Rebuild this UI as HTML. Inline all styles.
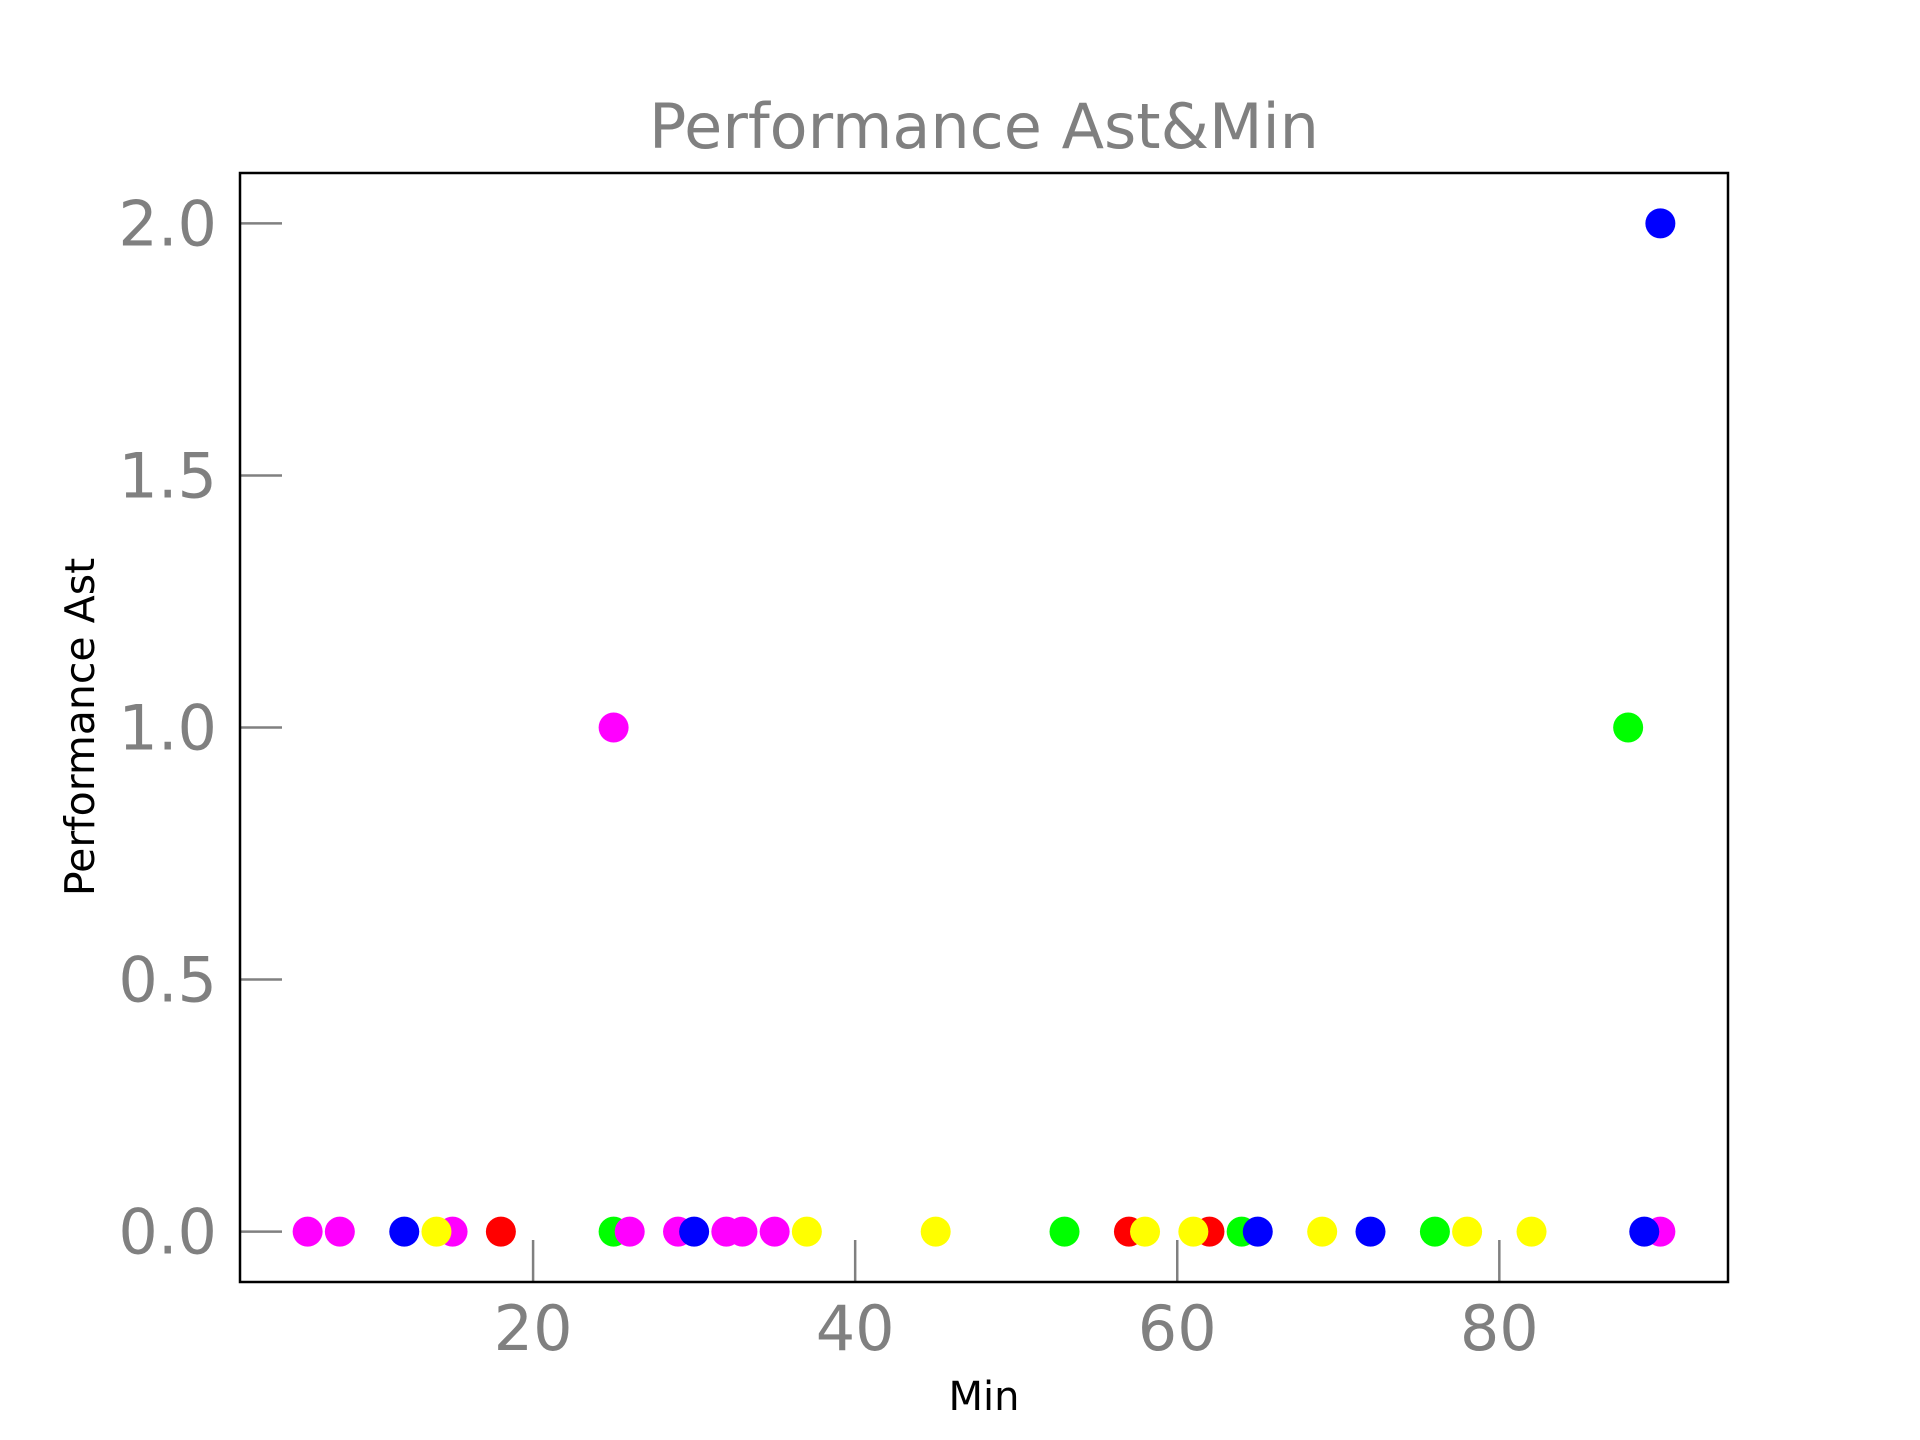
<!DOCTYPE html>
<html><head><meta charset="utf-8"><style>body{margin:0;background:#fff}svg{display:block}</style></head>
<body>
<svg width="1920" height="1440" viewBox="0 0 1920 1440" xmlns="http://www.w3.org/2000/svg" font-family="DejaVu Sans, Liberation Sans, sans-serif">
<g id="plot"></g>
</svg>
<script>
const redX=[18,57,62], redY=[0,0,0];
const greenX=[25,53,64,76,88], greenY=[0,0,0,0,1];
const magentaX=[6,8,15,25,26,29,32,33,35,90], magentaY=[0,0,0,1,0,0,0,0,0,0];
const blueX=[12,30,65,72,89,90], blueY=[0,0,0,0,0,2];
const yellowX=[14,37,45,58,61,69,78,82], yellowY=[0,0,0,0,0,0,0,0];
const xTicks=[20,40,60,80], yTicks=[0,0.5,1,1.5,2];
const yTickLabels=["0.0","0.5","1.0","1.5","2.0"];
const L=240,R=1728,T=173,B=1282,xmin=1.8,xmax=94.2,ymin=-0.1,ymax=2.1;
const sx=v=>L+(v-xmin)/(xmax-xmin)*(R-L);
const sy=v=>B-(v-ymin)/(ymax-ymin)*(B-T);
const NS="http://www.w3.org/2000/svg", g=document.getElementById('plot');
function mk(t,a,txt){const e=document.createElementNS(NS,t);for(const k in a)e.setAttribute(k,a[k]);if(txt!=null)e.textContent=txt;g.appendChild(e);return e;}
yTicks.forEach((v,i)=>{
 const t=mk('line',{x1:L,x2:L+42,y1:sy(v),y2:sy(v),stroke:'#808080','stroke-width':2.5});
 
 
 const l=mk('text',{x:217,y:sy(v)+22,'text-anchor':'end','font-size':62,fill:'#808080'},yTickLabels[i]);
 
 
});
xTicks.forEach(v=>{
 const t=mk('line',{x1:sx(v),x2:sx(v),y1:B,y2:B-42,stroke:'#808080','stroke-width':2.5});
 
 
 const l=mk('text',{x:sx(v),y:1350,'text-anchor':'middle','font-size':62,fill:'#808080'},String(v));
 
 
});
const series=[[redX,redY,'#ff0000','red'],[greenX,greenY,'#00ff00','green'],[magentaX,magentaY,'#ff00ff','magenta'],[blueX,blueY,'#0000ff','blue'],[yellowX,yellowY,'#ffff00','yellow']];
series.forEach(s=>{s[0].forEach((x,i)=>{
 const c=mk('circle',{cx:sx(x),cy:sy(s[1][i]),r:15,fill:s[2]});
 
 
});});
const fr=mk('rect',{x:L,y:T,width:R-L,height:B-T,fill:'none',stroke:'#000','stroke-width':2.5});


const ti=mk('text',{x:984,y:148,'text-anchor':'middle','font-size':62,fill:'#808080'},'Performance Ast&Min');


const xl=mk('text',{x:984,y:1410,'text-anchor':'middle','font-size':40,fill:'#000'},'Min');


const yl=mk('text',{x:0,y:0,'text-anchor':'middle','font-size':41,fill:'#000',transform:'translate(94,727) rotate(-90)'},'Performance Ast');


</script>
</body></html>
